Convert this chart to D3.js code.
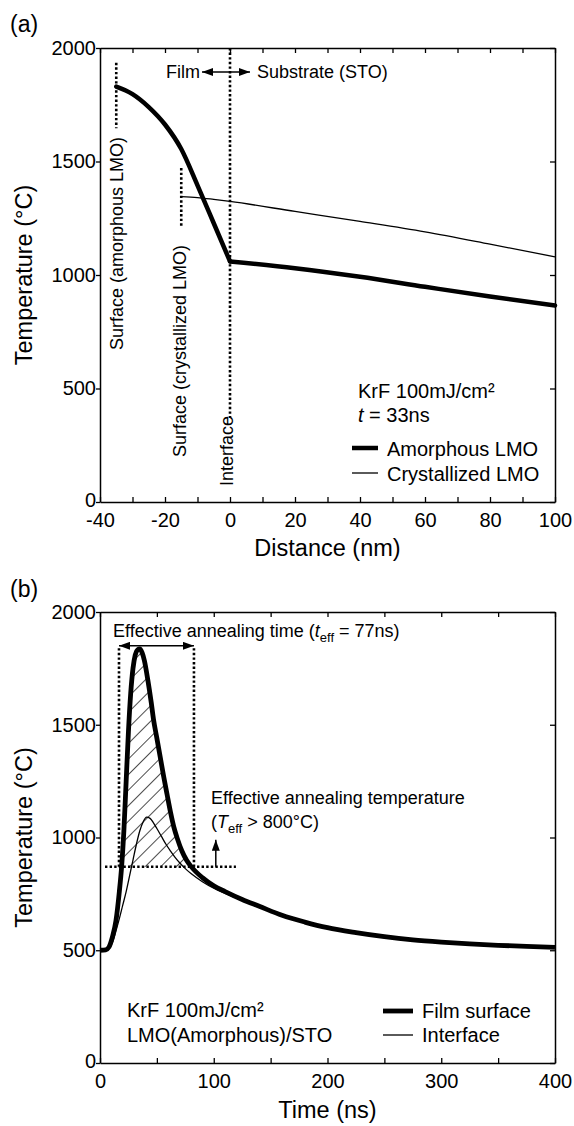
<!DOCTYPE html>
<html>
<head>
<meta charset="utf-8">
<script src="https://cdn.jsdelivr.net/npm/d3@7"></script>
<style>
  body { margin: 0; background: #fff; }
  text { font-family: "Liberation Sans", Arial, sans-serif; fill: #000; }
</style>
</head>
<body>
<script>
// ---- (a) temperature vs distance at t = 33ns
var amorphDist = [-35, -30, -25, -20, -15, -10, -5, 0, 20, 40, 60, 80, 100];
var amorphTemp = [1830, 1797, 1740, 1663, 1555, 1395, 1228, 1060, 1030, 992, 948, 905, 866];
var crystDist = [-15, -10, -5, 0, 20, 40, 60, 80, 100];
var crystTemp = [1345, 1341, 1333, 1324, 1280, 1236, 1190, 1136, 1080];

var distTicks = d3.range(-40, 101, 10);
var tempTicks = [0, 500, 1000, 1500, 2000];

// ---- (b) temperature vs time
var filmTime = [0, 5, 8, 11, 14, 17, 19, 21, 23, 25, 27, 29, 31, 33, 35, 37, 39, 42, 45, 47, 50, 53, 56, 59, 62, 65, 68, 72, 76, 80, 90, 100, 110, 125, 140, 160, 180, 200, 225, 250, 275, 300, 325, 350, 375, 400];
var filmTemp = [500, 502, 515, 560, 630, 760, 870, 1030, 1250, 1470, 1640, 1750, 1810, 1832, 1836, 1820, 1785, 1700, 1600, 1525, 1440, 1355, 1270, 1190, 1112, 1045, 995, 940, 900, 872, 822, 786, 760, 725, 695, 655, 625, 600, 578, 560, 546, 536, 528, 522, 517, 513];
var ifaceTime = [0, 5, 8, 11, 14, 17, 20, 23, 26, 29, 32, 35, 38, 41, 44, 47, 50, 54, 58, 62, 66, 70, 75, 80, 90, 100, 110, 125, 140, 160, 180, 200, 225, 250, 275, 300, 325, 350, 375, 400];
var ifaceTemp = [500, 500, 508, 535, 585, 640, 700, 760, 830, 900, 970, 1030, 1070, 1090, 1085, 1065, 1040, 1005, 970, 940, 912, 888, 862, 840, 804, 775, 752, 721, 693, 655, 625, 600, 578, 560, 546, 536, 528, 522, 517, 513];

var timeTicks = d3.range(0, 401, 50);

// annotation values
var surfAmorph = { x: -35, from: 1935, to: 1646 };
var surfCryst = { x: -15, from: 1471, to: 1208 };
var interfaceLine = { x: 0, from: 2000, to: 370 };
var effStart = 16.7, effEnd = 82.6, effTop = 1840, effArrowT = 1850;
var teffLevel = 870, teffFrom = 4.4, teffTo = 119.5, teffArrowX = 101.8, teffArrowTop = 990;

var FONT = '"Liberation Sans", Arial, sans-serif';

var svg = d3.select("body").append("svg")
    .attr("width", 574)
    .attr("height", 1126);

var defs = svg.append("defs");
defs.append("marker")
    .attr("id", "arrow")
    .attr("markerUnits", "userSpaceOnUse")
    .attr("markerWidth", 11).attr("markerHeight", 8)
    .attr("refX", 11).attr("refY", 4)
    .attr("orient", "auto-start-reverse")
  .append("path")
    .attr("d", "M0,0L11,4L0,8Z")
    .attr("fill", "#000");

var hatch = defs.append("pattern")
    .attr("id", "hatch")
    .attr("patternUnits", "userSpaceOnUse")
    .attr("width", 11).attr("height", 11)
    .attr("patternTransform", "rotate(45)");
hatch.append("line")
    .attr("x1", 0).attr("y1", 0).attr("x2", 0).attr("y2", 11)
    .attr("stroke", "#000").attr("stroke-width", 1.4);

// Escalas
var xA = d3.scaleLinear().domain([-40, 100]).range([100, 555]);
var yA = d3.scaleLinear().domain([0, 2000]).range([502, 48]);
var xB = d3.scaleLinear().domain([0, 400]).range([100, 555]);
var yB = d3.scaleLinear().domain([0, 2000]).range([1063, 612]);

function styleAxis(g) {
  g.attr("font-family", FONT).attr("font-size", 20);
  g.select(".domain").attr("stroke-width", 1.5);
  g.selectAll(".tick line").attr("stroke-width", 1.3);
  g.selectAll("text").attr("fill", "#000");
}

function frame(x, y, xTicks, labelStep) {
  var yBottom = y.range()[0], yTop = y.range()[1];
  var xLeft = x.range()[0], xRight = x.range()[1];

  svg.append("g")
      .attr("transform", "translate(0," + yBottom + ")")
      .call(d3.axisBottom(x).tickValues(xTicks).tickSize(-5).tickSizeOuter(0).tickPadding(11)
        .tickFormat(function(d) { return d % labelStep === 0 ? String(d) : ""; }))
      .call(styleAxis);

  svg.append("g")
      .attr("transform", "translate(0," + yTop + ")")
      .call(d3.axisTop(x).tickValues(xTicks).tickSize(-5).tickSizeOuter(0).tickFormat(""))
      .call(styleAxis);

  var left = svg.append("g")
      .attr("transform", "translate(" + xLeft + ",0)")
      .call(d3.axisLeft(y).tickValues(tempTicks).tickSize(4).tickSizeOuter(0).tickPadding(0)
        .tickFormat(function(d) { return String(d); }))
      .call(styleAxis);
  // el "0" queda un poco mas arriba, pegado al eje
  left.selectAll(".tick text").filter(function(d) { return d === 0; }).attr("dy", "0.2em");

  svg.append("g")
      .attr("transform", "translate(" + xRight + ",0)")
      .call(d3.axisRight(y).tickValues(tempTicks).tickSize(-5).tickSizeOuter(0).tickFormat(""))
      .call(styleAxis);
}

function dotted(x1, y1, x2, y2) {
  svg.append("line")
      .attr("x1", x1).attr("y1", y1).attr("x2", x2).attr("y2", y2)
      .attr("stroke", "#000")
      .attr("stroke-width", 2.6)
      .attr("stroke-dasharray", "2.4,2.2");
}

function label(x, y, size, txt) {
  return svg.append("text").attr("x", x).attr("y", y).attr("font-size", size).text(txt);
}

// =================== panel (a)
frame(xA, yA, distTicks, 20);

label(10, 32, 23, "(a)");

svg.append("text")
    .attr("transform", "translate(32," + (48 + 502) / 2 + ") rotate(-90)")
    .attr("text-anchor", "middle")
    .attr("font-size", 23.5)
    .text("Temperature (°C)");

svg.append("text")
    .attr("x", 327.5).attr("y", 556)
    .attr("text-anchor", "middle")
    .attr("font-size", 23.5)
    .text("Distance (nm)");

// lineas punteadas de superficie / interfaz
[surfAmorph, surfCryst, interfaceLine].forEach(function(d) {
  dotted(xA(d.x), yA(d.from), xA(d.x), yA(d.to));
});

svg.append("text")
    .attr("transform", "translate(" + (xA(surfAmorph.x) + 7) + ",137) rotate(-90)")
    .attr("text-anchor", "end").attr("font-size", 18)
    .text("Surface (amorphous LMO)");
svg.append("text")
    .attr("transform", "translate(" + (xA(surfCryst.x) + 5) + ",245) rotate(-90)")
    .attr("text-anchor", "end").attr("font-size", 18)
    .text("Surface (crystallized LMO)");
svg.append("text")
    .attr("transform", "translate(" + (xA(interfaceLine.x) + 3) + "," + (yA(interfaceLine.to) - 2) + ") rotate(-90)")
    .attr("text-anchor", "end").attr("font-size", 18)
    .text("Interface");

// Film <-> Substrate
label(xA(0) - 30, 78, 18, "Film").attr("text-anchor", "end");
svg.append("line")
    .attr("x1", xA(0) - 28).attr("y1", 72).attr("x2", xA(0) + 20).attr("y2", 72)
    .attr("stroke", "#000").attr("stroke-width", 1.5)
    .attr("marker-start", "url(#arrow)").attr("marker-end", "url(#arrow)");
label(xA(0) + 27, 78, 18, "Substrate (STO)");

var lineA = d3.line()
    .x(function(d) { return xA(d[0]); })
    .y(function(d) { return yA(d[1]); });
var lineAsmooth = d3.line()
    .curve(d3.curveMonotoneX)
    .x(function(d) { return xA(d[0]); })
    .y(function(d) { return yA(d[1]); });

svg.append("path")
    .datum(d3.zip(crystDist, crystTemp))
    .attr("d", lineAsmooth)
    .attr("fill", "none").attr("stroke", "#000").attr("stroke-width", 1.3);

var amorph = d3.zip(amorphDist, amorphTemp);
// pelicula (curva suave) y sustrato, con quiebre en la interfaz
svg.append("path")
    .datum(amorph.filter(function(d) { return d[0] <= 0; }))
    .attr("d", lineAsmooth)
    .attr("fill", "none").attr("stroke", "#000").attr("stroke-width", 4.5)
    .attr("stroke-linecap", "round");
svg.append("path")
    .datum(amorph.filter(function(d) { return d[0] >= 0; }))
    .attr("d", lineAsmooth)
    .attr("fill", "none").attr("stroke", "#000").attr("stroke-width", 4.5)
    .attr("stroke-linecap", "round");

// leyenda (a)
label(358, 398, 20, "KrF 100mJ/cm²");
var tA = label(358, 422, 20, "");
tA.append("tspan").attr("font-style", "italic").text("t");
tA.append("tspan").text(" = 33ns");
svg.append("line").attr("x1", 352).attr("x2", 378).attr("y1", 448).attr("y2", 448)
    .attr("stroke", "#000").attr("stroke-width", 4.5);
label(387, 456, 20, "Amorphous LMO");
svg.append("line").attr("x1", 352).attr("x2", 378).attr("y1", 473).attr("y2", 473)
    .attr("stroke", "#000").attr("stroke-width", 1.3);
label(387, 481, 20, "Crystallized LMO");

// =================== panel (b)
frame(xB, yB, timeTicks, 100);

label(10, 597, 23, "(b)");

svg.append("text")
    .attr("transform", "translate(32," + (612 + 1063) / 2 + ") rotate(-90)")
    .attr("text-anchor", "middle")
    .attr("font-size", 23.5)
    .text("Temperature (°C)");

svg.append("text")
    .attr("x", 327.5).attr("y", 1118)
    .attr("text-anchor", "middle")
    .attr("font-size", 23.5)
    .text("Time (ns)");

var filmData = d3.zip(filmTime, filmTemp);

// area rayada por encima de T_eff
var hatchArea = d3.area()
    .curve(d3.curveMonotoneX)
    .x(function(d) { return xB(d[0]); })
    .y0(yB(teffLevel))
    .y1(function(d) { return yB(Math.max(d[1], teffLevel)); });

svg.append("path")
    .datum(filmData.filter(function(d) { return d[0] >= 14 && d[0] <= 90; }))
    .attr("d", hatchArea)
    .attr("fill", "url(#hatch)");

dotted(xB(teffFrom), yB(teffLevel), xB(teffTo), yB(teffLevel));
dotted(xB(effStart), yB(teffLevel), xB(effStart), yB(effTop));
dotted(xB(effEnd), yB(teffLevel), xB(effEnd), yB(effTop));

svg.append("line")
    .attr("x1", xB(effStart)).attr("y1", yB(effArrowT))
    .attr("x2", xB(effEnd)).attr("y2", yB(effArrowT))
    .attr("stroke", "#000").attr("stroke-width", 1.5)
    .attr("marker-start", "url(#arrow)").attr("marker-end", "url(#arrow)");

svg.append("line")
    .attr("x1", xB(teffArrowX)).attr("y1", yB(teffLevel))
    .attr("x2", xB(teffArrowX)).attr("y2", yB(teffArrowTop))
    .attr("stroke", "#000").attr("stroke-width", 1.5)
    .attr("marker-end", "url(#arrow)");

var tEff = label(113, 637, 18, "Effective annealing time (");
tEff.append("tspan").attr("font-style", "italic").text("t");
tEff.append("tspan").attr("font-size", 13).attr("dy", 5).text("eff");
tEff.append("tspan").attr("dy", -5).text(" = 77ns)");

label(211, 804, 18, "Effective annealing temperature");
var TEff = label(211, 828, 18, "(");
TEff.append("tspan").attr("font-style", "italic").text("T");
TEff.append("tspan").attr("font-size", 13).attr("dy", 5).text("eff");
TEff.append("tspan").attr("dy", -5).text(" > 800°C)");

var lineB = d3.line()
    .curve(d3.curveMonotoneX)
    .x(function(d) { return xB(d[0]); })
    .y(function(d) { return yB(d[1]); });

svg.append("path")
    .datum(d3.zip(ifaceTime, ifaceTemp))
    .attr("d", lineB)
    .attr("fill", "none").attr("stroke", "#000").attr("stroke-width", 1.3);

svg.append("path")
    .datum(filmData)
    .attr("d", lineB)
    .attr("fill", "none").attr("stroke", "#000").attr("stroke-width", 4.8)
    .attr("stroke-linejoin", "round");

// leyenda (b)
label(127, 1017, 20, "KrF 100mJ/cm²");
label(127, 1042, 20, "LMO(Amorphous)/STO");
svg.append("line").attr("x1", 383).attr("x2", 413).attr("y1", 1011).attr("y2", 1011)
    .attr("stroke", "#000").attr("stroke-width", 4.8);
label(422, 1018, 20, "Film surface");
svg.append("line").attr("x1", 383).attr("x2", 413).attr("y1", 1035).attr("y2", 1035)
    .attr("stroke", "#000").attr("stroke-width", 1.3);
label(422, 1042, 20, "Interface");
</script>
</body>
</html>
